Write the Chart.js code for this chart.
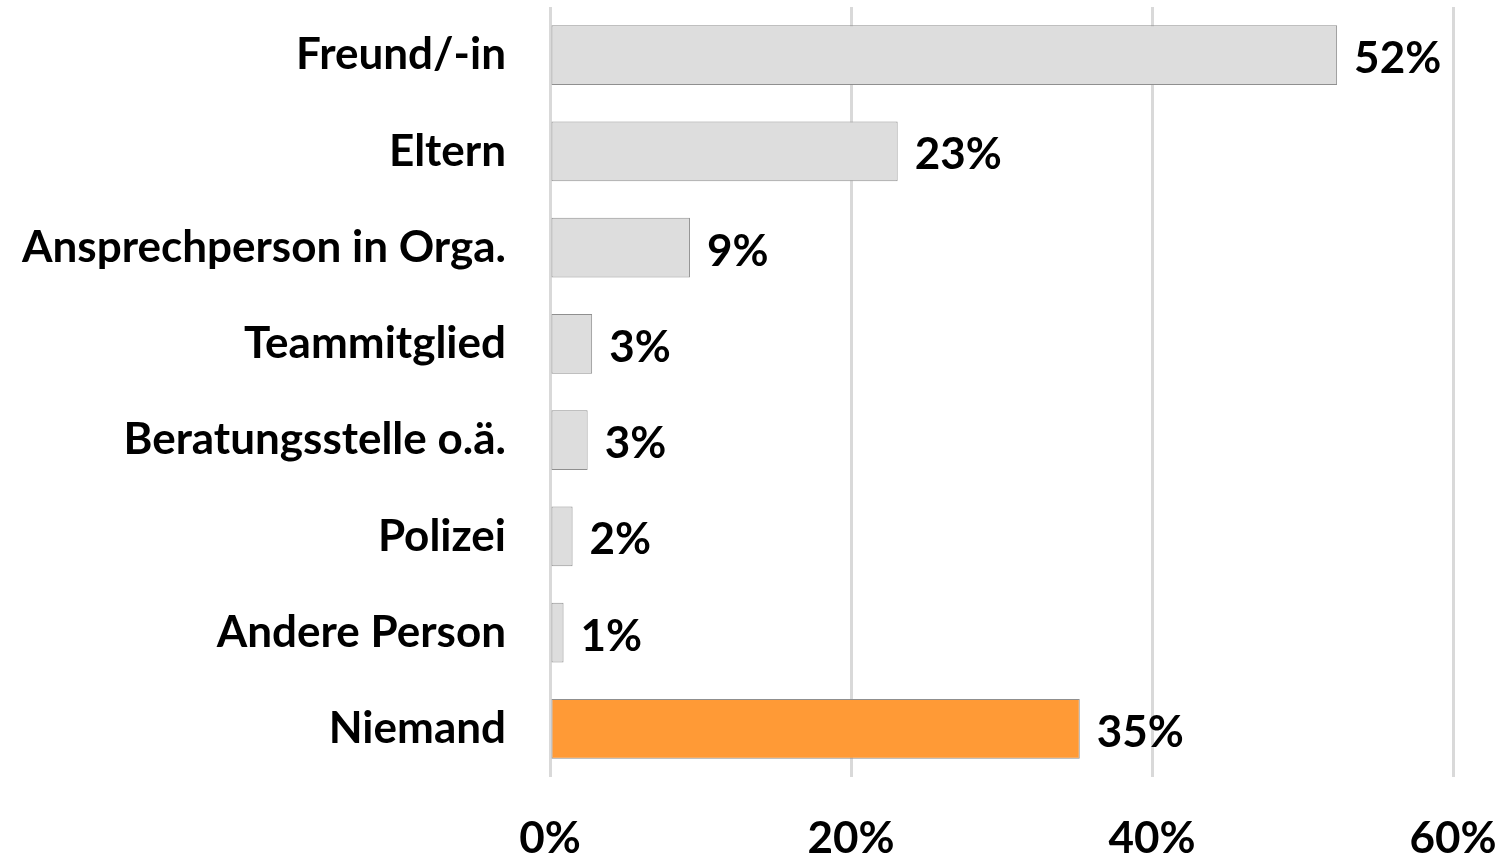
<!DOCTYPE html>
<html>
<head>
<meta charset="utf-8">
<script src="https://cdn.jsdelivr.net/npm/chart.js@4"></script>
<style>
  html, body { margin: 0; padding: 0; background: #fff; }
  #wrap { width: 1499px; height: 859px; }
</style>
</head>
<body>
<div id="wrap"><canvas id="barChart" width="1499" height="859"></canvas></div>
<script>
const categories = ['Freund/-in', 'Eltern', 'Ansprechperson in Orga.', 'Teammitglied',
    'Beratungsstelle o.ä.', 'Polizei', 'Andere Person', 'Niemand'];
const values = [52.3, 23.1, 9.3, 2.8, 2.5, 1.5, 0.9, 35.2];
const valueLabels = ['52%', '23%', '9%', '3%', '3%', '2%', '1%', '35%'];
const barColors = ['#dddddd', '#dddddd', '#dddddd', '#dddddd', '#dddddd', '#dddddd', '#dddddd', '#ff9a36'];
const xTicks = [0, 20, 40, 60];

const FONT = 'Lato, "Open Sans", sans-serif';

// Werte rechts neben den Balken
const valueLabelPlugin = {
    id: 'valueLabels',
    afterDatasetsDraw(chart) {
        const ctx = chart.ctx;
        const meta = chart.getDatasetMeta(0);
        ctx.save();
        ctx.font = 'bold 44px ' + FONT;
        ctx.fillStyle = '#000';
        ctx.textAlign = 'left';
        ctx.textBaseline = 'alphabetic';
        meta.data.forEach((bar, i) => {
            ctx.fillText(valueLabels[i], bar.x + 17, bar.y + 18);
        });
        ctx.restore();
    }
};

const ctx = document.getElementById('barChart').getContext('2d');
new Chart(ctx, {
    type: 'bar',
    data: {
        labels: categories,
        datasets: [{
            data: values,
            backgroundColor: barColors,
            borderColor: '#8f8f8f',
            borderWidth: 1,
            borderSkipped: false,
            categoryPercentage: 1,
            barPercentage: 0.62
        }]
    },
    options: {
        indexAxis: 'y',
        responsive: false,
        animation: false,
        layout: {
            padding: { top: 7, right: 46, bottom: 0, left: 0 }
        },
        plugins: {
            legend: { display: false },
            tooltip: { enabled: false }
        },
        scales: {
            x: {
                min: 0,
                max: 60,
                afterBuildTicks: (axis) => {
                    axis.ticks = xTicks.map(v => ({ value: v }));
                },
                afterFit: (axis) => {
                    axis.height = 82;
                    axis.paddingLeft = 0;
                    axis.paddingRight = 0;
                },
                grid: {
                    color: '#d9d9d9',
                    lineWidth: 3,
                    drawTicks: false
                },
                border: { display: false },
                ticks: {
                    padding: 35,
                    color: '#000',
                    font: { family: FONT, size: 44, weight: 'bold' },
                    callback: (v) => v + '%'
                }
            },
            y: {
                afterFit: (axis) => {
                    axis.width = 550;
                    axis.paddingTop = 0;
                    axis.paddingBottom = 0;
                },
                grid: { display: false, drawTicks: false },
                border: { display: false },
                ticks: {
                    padding: 44,
                    color: '#000',
                    font: { family: FONT, size: 44, weight: 'bold' }
                }
            }
        }
    },
    plugins: [valueLabelPlugin]
});
</script>
</body>
</html>
